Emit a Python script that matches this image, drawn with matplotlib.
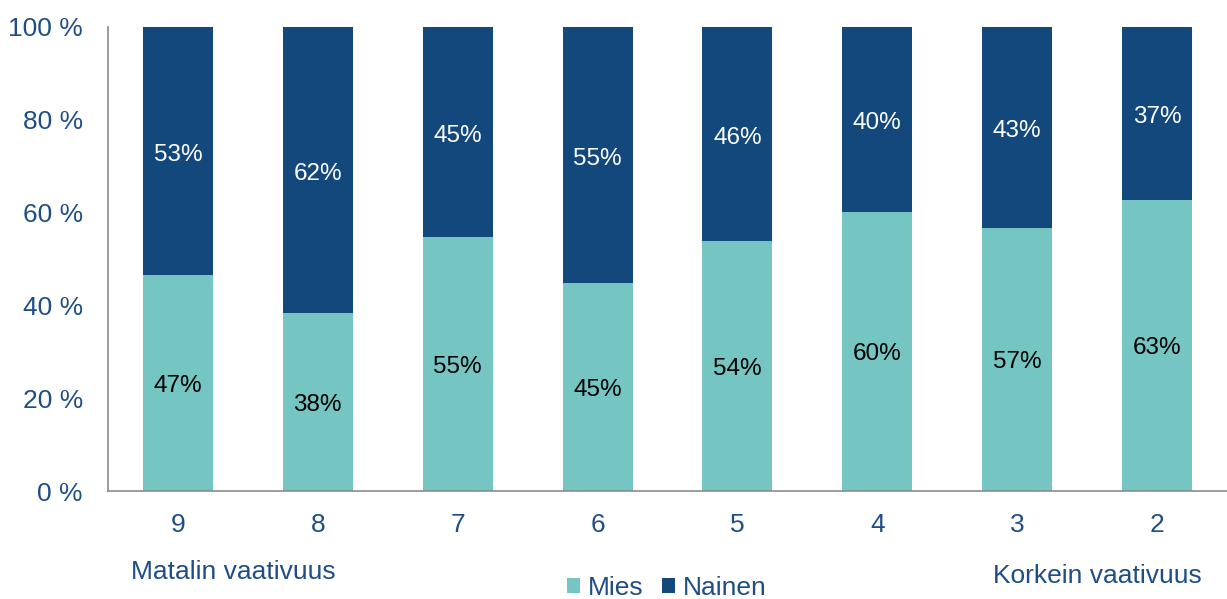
import matplotlib.pyplot as plt
import numpy as np

plt.rcParams['font.family'] = ['Liberation Sans', 'DejaVu Sans']

kategoriat = ['9', '8', '7', '6', '5', '4', '3', '2']
mies = [46.6, 38.4, 54.7, 44.8, 53.9, 60.1, 56.7, 62.7]
nainen = [53.4, 61.6, 45.3, 55.2, 46.1, 39.9, 43.3, 37.3]

teal = '#75C5C3'
navy = '#12487C'
tekstivari = '#1F4E86'

fig = plt.figure(figsize=(12.27, 5.99), dpi=100)
ax = fig.add_axes([0.088, 0.1803, 0.912, 0.7747])

x = np.arange(len(kategoriat))
b1 = ax.bar(x, mies, width=0.5, color=teal, label='Mies')
b2 = ax.bar(x, nainen, width=0.5, bottom=mies, color=navy, label='Nainen')

for i in range(len(x)):
    ax.text(x[i], mies[i] / 2 - 0.6, f'{round(mies[i])}%', ha='center', va='center',
            fontsize=17.5, color='black')
    ax.text(x[i], mies[i] + nainen[i] / 2 - 0.8, f'{round(nainen[i])}%', ha='center',
            va='center', fontsize=17.5, color='white')

ax.set_xlim(-0.5, len(x) - 0.5)
ax.set_ylim(0, 100)
ax.set_yticks(range(0, 101, 20))
ax.set_yticklabels([f'{v} %' for v in range(0, 101, 20)])
ax.set_xticks(x)
ax.set_xticklabels(kategoriat)
ax.tick_params(length=0, labelsize=19, labelcolor=tekstivari)
ax.tick_params(axis='x', pad=16)
ax.tick_params(axis='y', pad=18)

for s in ['top', 'right']:
    ax.spines[s].set_visible(False)
for s in ['left', 'bottom']:
    ax.spines[s].set_color('#8C8C8C')
    ax.spines[s].set_linewidth(1.2)

fig.text(131 / 1227, 1 - 572 / 599, 'Matalin vaativuus', ha='left', va='center',
         fontsize=19, color=tekstivari)
fig.text(1202 / 1227, 1 - 576 / 599, 'Korkein vaativuus', ha='right', va='center',
         fontsize=19, color=tekstivari)

leg = fig.legend(loc='center', bbox_to_anchor=(667 / 1227, 1 - 588 / 599), ncol=2,
                 frameon=False, fontsize=19, handlelength=0.5, handleheight=0.5,
                 handletextpad=0.3, columnspacing=0.7, borderpad=0.1)
for t in leg.get_texts():
    t.set_color(tekstivari)

fig.savefig('out.png', dpi=100)
